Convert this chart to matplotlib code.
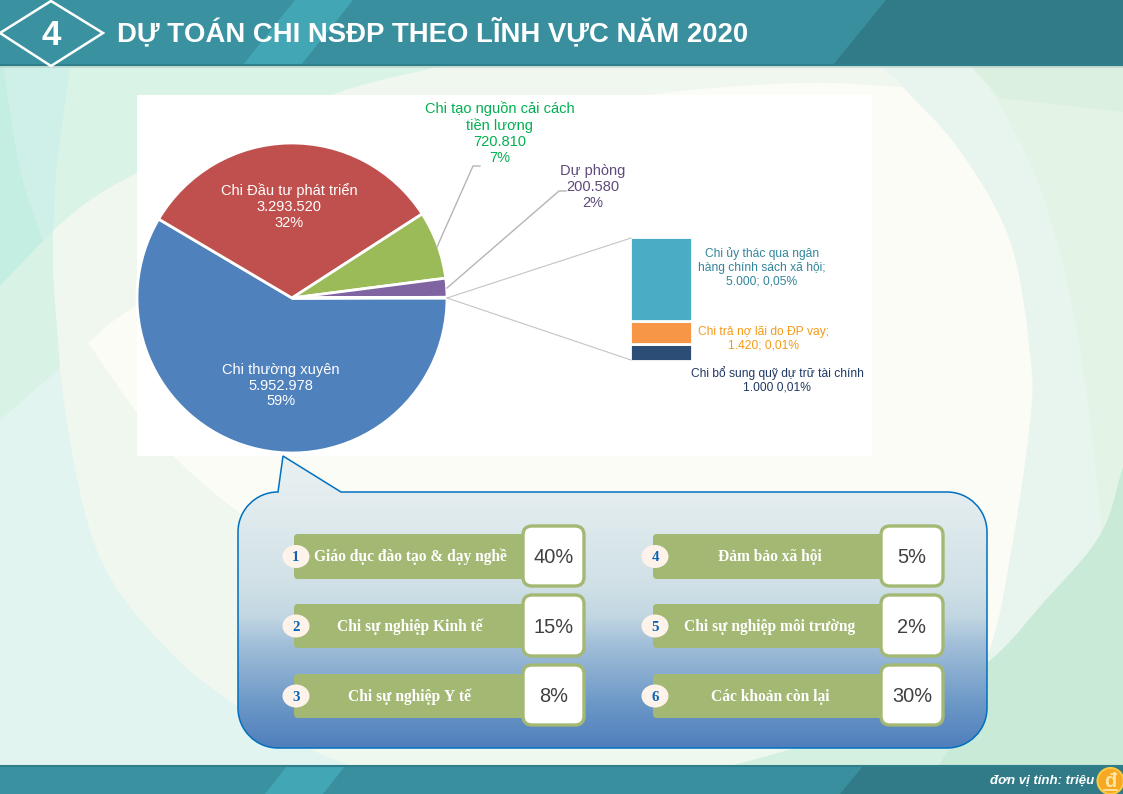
import numpy as np
import matplotlib
matplotlib.use("Agg")
import matplotlib.pyplot as plt
from matplotlib.patches import Polygon, Ellipse, FancyBboxPatch, PathPatch, Rectangle, Circle
from matplotlib.path import Path
from matplotlib.colors import LinearSegmentedColormap

# ---- data ----
pie_names = ["Chi thường xuyên", "Chi Đầu tư phát triển", "Chi tạo nguồn cải cách\ntiền lương", "Dự phòng", "Khác"]
pie_values = [5952978, 3293520, 720810, 200580, 7420]
pie_value_labels = ["5.952.978", "3.293.520", "720.810", "200.580"]
pie_pct_labels = ["59%", "32%", "7%", "2%"]
pie_colors = ["#4f81bd", "#c0504d", "#9bbb59", "#8064a2", "#4bacc6"]
stack_values = [1000, 1420, 5000]
stack_colors = ["#2c4d75", "#f79646", "#4bacc6"]
left_items = ["Giáo dục đào tạo & dạy nghề", "Chi sự nghiệp Kinh tế", "Chi sự nghiệp Y tế"]
left_pct = ["40%", "15%", "8%"]
right_items = ["Đảm bảo xã hội", "Chi sự nghiệp môi trường", "Các khoản còn lại"]
right_pct = ["5%", "2%", "30%"]
title = "DỰ TOÁN CHI NSĐP THEO LĨNH VỰC NĂM 2020"

W, H = 1123, 794
plt.rcParams['font.family'] = ['Liberation Sans', 'DejaVu Sans']
plt.rcParams['text.kerning_factor'] = 6
fig = plt.figure(figsize=(W/100, H/100), dpi=100)
PX = 0.72  # px to pt at dpi 100

def pixel_axes(z):
    a = fig.add_axes([0, 0, 1, 1], zorder=z)
    a.set_xlim(0, W); a.set_ylim(H, 0); a.axis('off'); a.patch.set_alpha(0)
    return a

def box_axes(x0, y0, x1, y1, z):
    return fig.add_axes([x0/W, 1-y1/H, (x1-x0)/W, (y1-y0)/H], zorder=z)

def smooth(pts, n=14):
    """Catmull-Rom smoothing of a decorative background outline."""
    p = np.array(pts, float)
    p = np.vstack([2*p[0]-p[1], p, 2*p[-1]-p[-2]])
    out = []
    for i in range(1, len(p)-2):
        for t in np.linspace(0, 1, n, endpoint=False):
            a, b, c, d = p[i-1], p[i], p[i+1], p[i+2]
            out.append(0.5*((2*b)+(c-a)*t+(2*a-5*b+4*c-d)*t**2+(3*b-a-3*c+d)*t**3))
    out.append(p[-2])
    return [tuple(q) for q in out]

bg = pixel_axes(0)
def fill(pts, color):
    bg.add_patch(Polygon(pts, fc=color, ec="none"))

curve_A = smooth([(0, 286), (53, 230), (137, 173), (331, 95), (441, 66)])
curve_C = smooth([(70, 65), (56, 170), (53, 277), (67, 422), (100, 558), (167, 649), (240, 708), (308, 748), (351, 766)])
curve_B_top = smooth([(88, 343), (137, 305), (330, 190), (500, 125), (647, 95), (800, 83), (903, 87)])
curve_D_low = smooth([(88, 343), (137, 413), (173, 456), (240, 513), (330, 570), (420, 640)])
curve_cream_r = smooth([(903, 87), (960, 151), (1010, 241), (1030, 354), (1030, 422), (1010, 558), (988, 653), (940, 740)])
curve_F = smooth([(970, 65), (1000, 105), (1043, 196), (1077, 332), (1100, 513), (1117, 739), (1119, 766)])
curve_G = smooth([(1123, 467), (1100, 535), (1043, 603), (988, 662), (900, 720)])

fill([(0, 0), (W, 0), (W, H), (0, H)], "#e1f4ef")
# lighter sweep, right of arc C
fill(curve_C + [(W, 766), (W, 65)], "#eff7ef")
# band between curves A and B left of arc C
fill([(0, 286), (53, 230), (53, 277), (60, 368), (0, 420)], "#d9f2e6")
# upper-left mint
fill(curve_A + [(441, 60), (0, 60)], "#d9f3e7")
# teal swishes
fill(smooth([(3, 65), (20, 169), (43, 241)]) + [(53, 230), (56, 170), (70, 65)], "#cfefe9")
fill([(0, 65)] + smooth([(3, 65), (20, 169), (43, 241)]) + [(0, 286)], "#c5eee2")
# right side layers
fill(curve_cream_r + [(W, 766), (W, 65), (880, 65)], "#e8f5ee")
fill(curve_F + [(W, 766), (W, 65)], "#e3f4e6")
fill([(970, 65), (W, 65), (W, 112), (1000, 98)], "#dcf0df")
# cream core
fill(curve_B_top + curve_cream_r[1:] + curve_D_low[::-1], "#fbfcf6")
# darker lower right
fill([(730, 766), (795, 748), (950, 748), (938, 766)], "#d4f0e0")
fill(curve_G + [(950, 748), (938, 766), (W, 766)], "#c9ead7")
fill([(351, 766), (308, 748), (795, 748), (730, 766)], "#eff8ef")
bg.add_patch(Rectangle((137, 95), 735, 361, fc="white", ec="none"))

def band(y0, y1, xl, skew, xd, skewd):
    bg.add_patch(Rectangle((0, y0), W, y1-y0, fc="#3a92a1", ec="none", zorder=3))
    bg.add_patch(Polygon([(xl+58, y1), (xl+58+skew, y0), (xd+skewd, y0), (xd, y1)], fc="#398f9d", ec="none", zorder=3.5))
    bg.add_patch(Polygon([(xl, y1), (xl+skew, y0), (xl+skew+58, y0), (xl+58, y1)], fc="#43a6b5", ec="none", zorder=4))
    bg.add_patch(Polygon([(xd, y1), (xd+skewd, y0), (W, y0), (W, y1)], fc="#307b87", ec="none", zorder=4))

band(0, 65, 243, 52, 833, 53)
band(766, 794, 265, 22, 840, 23)
bg.plot([0, W], [65, 65], color="#2f7f8b", lw=1.5, zorder=5)
bg.plot([0, W], [766, 766], color="#2f7f8b", lw=1.5, zorder=5)
bg.add_patch(Rectangle((0, 66), W, 2, fc="#b9cfc8", ec="none", alpha=0.6, zorder=2))
bg.add_patch(Polygon([(0, 33), (51, 1), (103, 33), (51, 66)], fc="#3a92a1", ec="white", lw=1.8, zorder=6))

# pie
pa = box_axes(137, 143, 447, 453, 2)
wedges, _ = pa.pie(pie_values, colors=pie_colors, startangle=0, counterclock=False,
                   radius=1, wedgeprops=dict(edgecolor="white", linewidth=2))
pa.set_xlim(-1, 1); pa.set_ylim(-1, 1); pa.axis('off')

# stacked bar of the small items
ba = box_axes(630, 237, 692, 361, 2)
bottom = 0
for v, c in zip(stack_values, stack_colors):
    ba.bar([0], [v], bottom=bottom, width=1, color=c, edgecolor="white", linewidth=2)
    bottom += v
ba.set_xlim(-0.5, 0.5); ba.set_ylim(0, sum(stack_values)); ba.axis('off')

ov = pixel_axes(3)
gray = "#b5b5b5"
ov.plot([437, 473, 480], [247, 166, 166], color=gray, lw=1)
ov.plot([447, 559, 566], [288, 191, 191], color=gray, lw=1)
ov.plot([447, 631], [298, 238], color="#c4c4c4", lw=0.8)
ov.plot([447, 631], [298, 360], color="#c4c4c4", lw=0.8)

def txt(x, y, s, size, color, **kw):
    kw.setdefault('ha', 'center'); kw.setdefault('va', 'center')
    kw.setdefault('linespacing', 1.17)
    return ov.text(x, y, s, fontsize=size*PX, color=color, **kw)

LBL = 14.67
txt(289, 206.5, f"{pie_names[1]}\n{pie_value_labels[1]}\n{pie_pct_labels[1]}", LBL, "white")
txt(281, 385.5, f"{pie_names[0]}\n{pie_value_labels[0]}\n{pie_pct_labels[0]}", LBL, "white")
txt(500, 133, f"{pie_names[2]}\n{pie_value_labels[2]}\n{pie_pct_labels[2]}", LBL, "#00b050")
txt(593, 187, f"{pie_names[3]}\n{pie_value_labels[3]}\n{pie_pct_labels[3]}", LBL, "#5f497a")
SM = 12
txt(762, 267.5, "Chi ủy thác qua ngân\nhàng chính sách xã hội;\n5.000; 0,05%", SM, "#31859c", linespacing=1.2)
txt(763, 339, "Chi trả nợ lãi do ĐP vay;\n1.420; 0,01%", SM, "#f59a1b", linespacing=1.2)
txt(777, 380, "Chi bổ sung quỹ dự trữ tài chính\n1.000 0,01%", SM, "#1f3864", linespacing=1.2)

txt(51, 45, "4", 35, "white", fontweight='bold', va='baseline', zorder=8)
txt(117, 41.5, title, 27.5, "white", ha='left', va='baseline', fontweight='bold', zorder=8)
txt(1094, 781, "đơn vị tính: triệu", 13.3, "white", ha='right', fontweight='bold', style='italic')
ov.add_patch(Circle((1110.5, 781), 13, fc="#f7a823", ec="#fdc843", lw=1.5))
txt(1110.5, 787, "đ", 20, "#ffe6a0", fontweight='bold', va='baseline')
ov.plot([1104, 1117], [789.5, 789.5], color="#ffe6a0", lw=1.3)

# callout
k = 0.5523 * 40
verts = [(278, 492), (283, 456), (341, 492), (947, 492),
         (947+k, 492), (987, 532-k), (987, 532),
         (987, 708), (987, 708+k), (947+k, 748), (947, 748),
         (278, 748), (278-k, 748), (238, 708+k), (238, 708),
         (238, 532), (238, 532-k), (278-k, 492), (278, 492), (278, 492)]
L, C4 = Path.LINETO, Path.CURVE4
codes = [Path.MOVETO, L, L, L, C4, C4, C4, L, C4, C4, C4, L, C4, C4, C4, L, C4, C4, C4, Path.CLOSEPOLY]
path = Path(verts, codes)
cmap = LinearSegmentedColormap.from_list("c", [(0, "#e8f1f2"), (0.15, "#e3edef"), (0.45, "#cfe0e6"), (0.55, "#c2d7e2"),
                                               (0.63, "#a6c2da"), (0.85, "#6c98c7"), (1, "#4f7ebb")])
im = ov.imshow(np.linspace(0, 1, 256)[:, None], cmap=cmap, extent=(238, 987, 748, 456),
               aspect='auto', zorder=1, vmin=0.0, vmax=1.0)
ov.set_xlim(0, W); ov.set_ylim(H, 0)
clip = PathPatch(path, transform=ov.transData, fc='none', ec="#0070c0", lw=1.1, zorder=2)
ov.add_patch(clip)
im.set_clip_path(clip)

GREEN = "#a3b873"
rows_bar = [(534, 579), (604, 648), (674, 718)]
rows_box = [(526, 586), (595, 656), (665, 725)]
base_serif = [561, 631, 701]
base_pct = [563, 633, 702]

def column(xbar0, xbar1, xbox0, xbox1, xnum, xtxt, items, pcts, nums):
    for (y0, y1), (b0, b1), bs, bp, s, p, n in zip(rows_bar, rows_box, base_serif, base_pct, items, pcts, nums):
        ov.add_patch(FancyBboxPatch((xbar0+3, y0+3), xbar1-xbar0-6, y1-y0-6, boxstyle="round,pad=3,rounding_size=4",
                                    fc=GREEN, ec="none", zorder=3))
        ov.add_patch(FancyBboxPatch((xbox0+8, b0+8), xbox1-xbox0-16, b1-b0-16, boxstyle="round,pad=8,rounding_size=9",
                                    fc="white", ec=GREEN, lw=2.4, zorder=4))
        ov.add_patch(Ellipse((xnum, (y0+y1)/2), 27, 23, fc="#fdf3ea", ec="none", zorder=5))
        txt(xnum, bs, n, 15, "#0b62b8", fontfamily='Liberation Serif', fontweight='bold', va='baseline', zorder=6)
        txt(xtxt, bs, s, 15.5, "white", fontfamily='Liberation Serif', fontweight='bold', va='baseline', zorder=6)
        txt((xbox0+xbox1)/2, bp, p, 20, "#404040", va='baseline', zorder=6)

column(294, 526, 523, 584, 296, 410, left_items, left_pct, ["1", "2", "3"])
column(653, 885, 881, 943, 655, 770, right_items, right_pct, ["4", "5", "6"])

fig.savefig("out.png", dpi=100)
